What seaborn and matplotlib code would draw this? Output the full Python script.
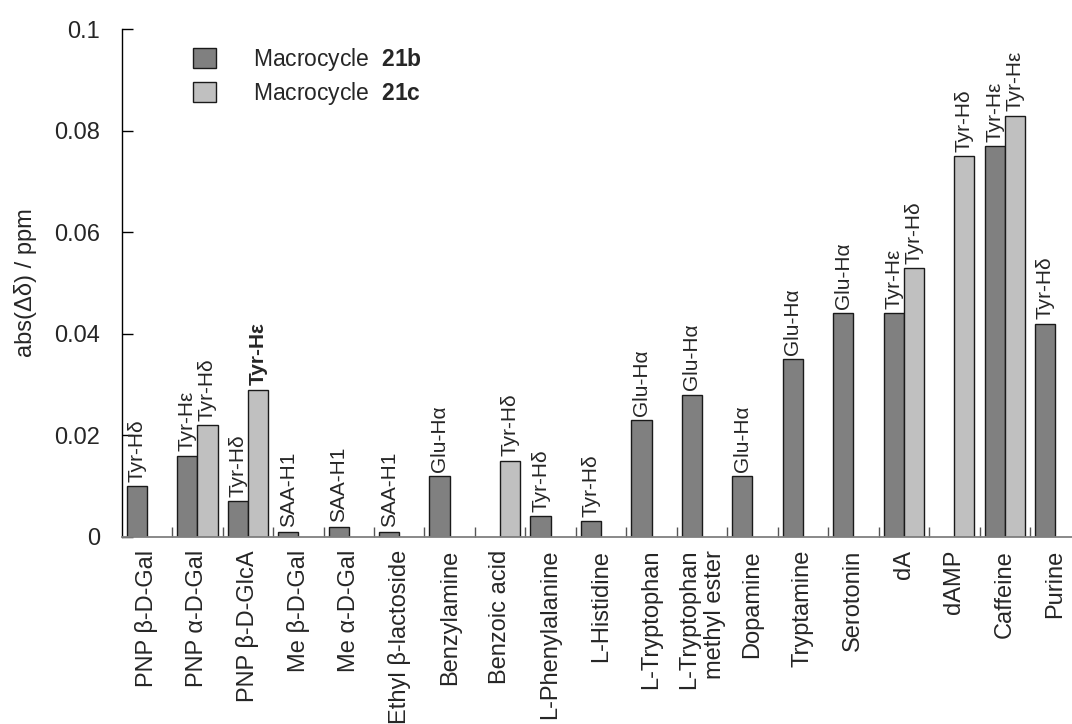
import numpy as np
import pandas as pd
import matplotlib
matplotlib.use("Agg")
import matplotlib.pyplot as plt
from matplotlib.patches import Patch
from matplotlib.ticker import FixedLocator, FixedFormatter
import seaborn as sns

nan = np.nan

categories = [
    "PNP β-D-Gal", "PNP α-D-Gal", "PNP β-D-GlcA", "Me β-D-Gal", "Me α-D-Gal",
    "Ethyl β-lactoside", "Benzylamine", "Benzoic acid", "L-Phenylalanine",
    "L-Histidine", "L-Tryptophan", "L-Tryptophan\nmethyl ester", "Dopamine",
    "Tryptamine", "Serotonin", "dA", "dAMP", "Caffeine", "Purine",
]
series = ["Macrocycle 21b", "Macrocycle 21c"]
legend_labels = ["Macrocycle  $\\mathbf{21b}$", "Macrocycle  $\\mathbf{21c}$"]

shift_21b = [0.010, 0.016, 0.007, 0.001, 0.002, 0.001, 0.012, nan, 0.004,
             0.003, 0.023, 0.028, 0.012, 0.035, 0.044, 0.044, nan, 0.077, 0.042]
shift_21c = [nan, 0.022, 0.029, nan, nan, nan, nan, 0.015, nan,
             nan, nan, nan, nan, nan, nan, 0.053, 0.075, 0.083, nan]

proton_21b = ["Tyr-Hδ", "Tyr-Hε", "Tyr-Hδ", "SAA-H1", "SAA-H1", "SAA-H1", "Glu-Hα", "",
              "Tyr-Hδ", "Tyr-Hδ", "Glu-Hα", "Glu-Hα", "Glu-Hα", "Glu-Hα", "Glu-Hα",
              "Tyr-Hε", "", "Tyr-Hε", "Tyr-Hδ"]
proton_21c = ["", "Tyr-Hδ", "Tyr-Hε", "", "", "", "", "Tyr-Hδ", "",
              "", "", "", "", "", "", "Tyr-Hδ", "Tyr-Hδ", "Tyr-Hε", ""]
# labels printed in bold: (series index, category index)
bold_labels = {(1, 2)}

y_ticks = [0, 0.02, 0.04, 0.06, 0.08, 0.1]
y_tick_labels = ["0", "0.02", "0.04", "0.06", "0.08", "0.1"]

colors = ["#808080", "#c0c0c0"]

sns.set_style("white")
plt.rcParams["font.family"] = ["Liberation Sans", "DejaVu Sans"]
plt.rcParams["mathtext.fontset"] = "custom"
plt.rcParams["mathtext.rm"] = "Liberation Sans"
plt.rcParams["mathtext.bf"] = "Liberation Sans:bold"
plt.rcParams["mathtext.it"] = "Liberation Sans:italic"

rows = []
for s, vals, labs in [(series[0], shift_21b, proton_21b), (series[1], shift_21c, proton_21c)]:
    for c, v, l in zip(categories, vals, labs):
        if not np.isnan(v):
            rows.append({"compound": c, "shift": v, "series": s, "proton": l})
df = pd.DataFrame(rows)
df["compound"] = pd.Categorical(df["compound"], categories=categories, ordered=True)

fig = plt.figure(figsize=(10.72, 7.24), dpi=100)
ax = fig.add_axes([0.1135, 0.2587, 0.8944, 0.7008])

sns.barplot(data=df, x="compound", y="shift", hue="series", order=categories,
            hue_order=series, palette=colors, width=0.8, gap=0,
            edgecolor="#1a1a1a", linewidth=1.0, errorbar=None, legend=False, ax=ax)

ax.set_xlim(-0.5, len(categories) - 0.5)
ax.set_ylim(0, 0.1)

# proton labels above each bar
label_sets = [proton_21b, proton_21c]
for si, cont in enumerate(ax.containers):
    for patch in cont.patches:
        h = patch.get_height()
        if not np.isfinite(h):
            continue
        xc = patch.get_x() + patch.get_width() / 2
        ci = int(round(xc))
        text = label_sets[si][ci]
        if not text:
            continue
        ax.annotate(text, (xc, h), xytext=(0, 3), textcoords="offset points",
                    rotation=90, ha="center", va="bottom", fontsize=15,
                    fontweight="bold" if (si, ci) in bold_labels else "normal")

# axes styling
for side in ["top", "right"]:
    ax.spines[side].set_visible(False)
ax.spines["left"].set_color("black")
ax.spines["left"].set_linewidth(1.0)
ax.spines["bottom"].set_color("#808080")
ax.spines["bottom"].set_linewidth(1.3)

ax.yaxis.set_major_locator(FixedLocator(y_ticks))
ax.yaxis.set_major_formatter(FixedFormatter(y_tick_labels))
ax.tick_params(axis="y", direction="in", length=8, width=1, color="black",
               labelsize=17, pad=15.5, left=True)

ax.set_xticks(range(len(categories)))
ax.set_xticklabels(categories, rotation=90, fontsize=17, va="top", ha="center",
                   multialignment="right")
ax.tick_params(axis="x", which="major", length=0, pad=9.5)
ax.set_xticks(np.arange(0.5, len(categories) - 0.5, 1.0), minor=True)
ax.tick_params(axis="x", which="minor", direction="in", length=7, width=1,
               color="#555555", bottom=True)

ax.set_xlabel("")
ax.set_ylabel("abs(Δδ) / ppm", fontsize=17)
ax.yaxis.set_label_coords(-0.088, 0.5)

handles = [Patch(facecolor=c, edgecolor="#1a1a1a", linewidth=1.0) for c in colors]
fig.legend(handles, legend_labels, loc="upper left",
           bbox_to_anchor=(0.18, 0.9365), frameon=False, fontsize=16.5,
           handlelength=1.0, handleheight=0.92, handletextpad=1.6,
           labelspacing=0.3, borderpad=0, borderaxespad=0)

fig.savefig("out.png", dpi=100)
